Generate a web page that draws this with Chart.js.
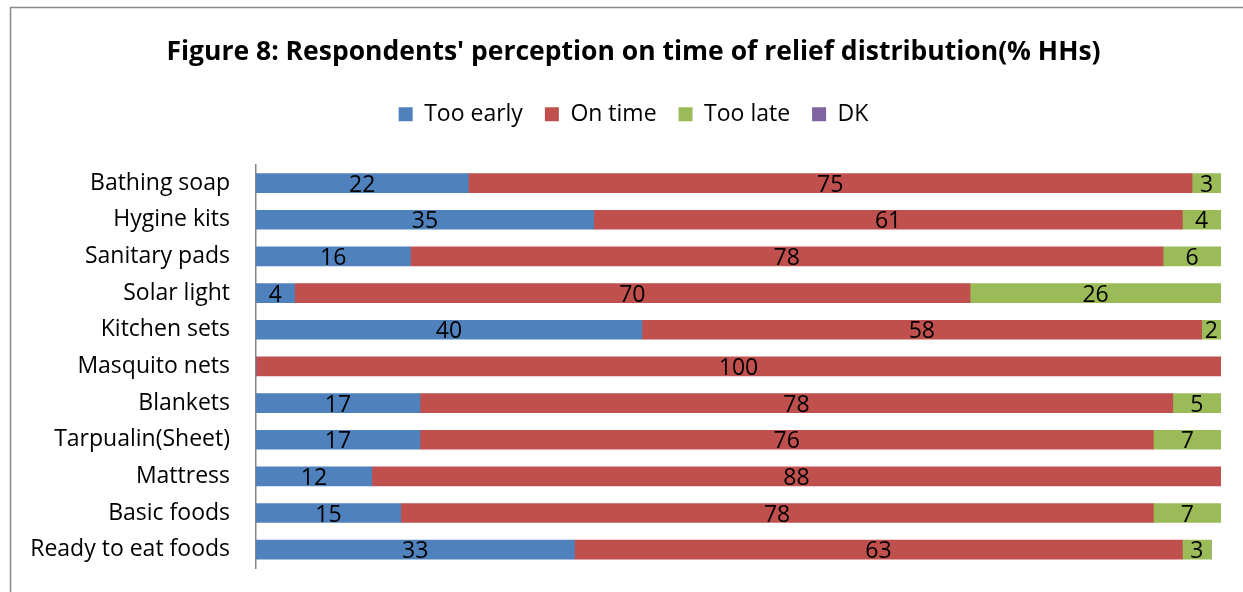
<!DOCTYPE html>
<html>
<head>
<meta charset="utf-8">
<script src="https://cdn.jsdelivr.net/npm/chart.js@4/dist/chart.umd.min.js"></script>
<style>
  html, body { margin: 0; padding: 0; background: #fff; }
  #wrap { width: 1243px; height: 592px; }
</style>
</head>
<body>
<div id="wrap"><canvas id="c" width="1243" height="592"></canvas></div>
<script>
// Relief items and the share of households (%) for each timing answer
const items = ['Bathing soap', 'Hygine kits', 'Sanitary pads', 'Solar light', 'Kitchen sets',
  'Masquito nets', 'Blankets', 'Tarpualin(Sheet)', 'Mattress', 'Basic foods', 'Ready to eat foods'];
const tooEarly = [22, 35, 16, 4, 40, 0, 17, 17, 12, 15, 33];
const onTime   = [75, 61, 78, 70, 58, 100, 78, 76, 88, 78, 63];
const tooLate  = [3, 4, 6, 26, 2, 0, 5, 7, 0, 7, 3];
const dontKnow = [0, 0, 0, 0, 0, 0, 0, 0, 0, 0, 0];

const FONT = '"Open Sans", Lato, sans-serif';

// White card with a grey frame behind the chart
const framePlugin = {
  id: 'frame',
  beforeDraw(chart) {
    const ctx = chart.ctx;
    ctx.save();
    ctx.fillStyle = '#ffffff';
    ctx.fillRect(0, 0, chart.width, chart.height);
    ctx.strokeStyle = '#878787';
    ctx.lineWidth = 1.5;
    ctx.strokeRect(10.5, 7.5, chart.width + 20, chart.height + 20);
    ctx.restore();
  }
};

// Centre the title and legend on the card rather than on the canvas
const headerShift = {
  id: 'headerShift',
  afterLayout(chart) {
    const dx = 18;
    [chart.titleBlock, chart.legend].forEach(b => {
      if (!b) return;
      b.left += dx;
      b.right += dx;
    });
  }
};

// Value printed in the middle of every non-empty segment
const valueLabels = {
  id: 'valueLabels',
  afterDatasetsDraw(chart) {
    const ctx = chart.ctx;
    ctx.save();
    ctx.font = '23px ' + FONT;
    ctx.fillStyle = '#000';
    ctx.textAlign = 'center';
    ctx.textBaseline = 'middle';
    chart.data.datasets.forEach((ds, di) => {
      const meta = chart.getDatasetMeta(di);
      if (meta.hidden) return;
      meta.data.forEach((bar, i) => {
        const v = ds.data[i];
        if (!v) return;
        const p = bar.getProps(['x', 'y', 'base'], true);
        ctx.fillText(String(v), (p.x + p.base) / 2, p.y + 2);
      });
    });
    ctx.restore();
  }
};

new Chart(document.getElementById('c'), {
  type: 'bar',
  data: {
    labels: items,
    datasets: [
      { label: 'Too early', data: tooEarly, backgroundColor: '#4F81BD' },
      { label: 'On time',   data: onTime,   backgroundColor: '#C0504D' },
      { label: 'Too late',  data: tooLate,  backgroundColor: '#9BBB59' },
      { label: 'DK',        data: dontKnow, backgroundColor: '#8064A2' }
    ]
  },
  options: {
    indexAxis: 'y',
    responsive: false,
    animation: false,
    events: [],
    datasets: { bar: { barThickness: 19, borderWidth: 0 } },
    layout: { padding: { left: 10, right: 22, top: 9, bottom: 24 } },
    scales: {
      x: {
        stacked: true, min: 0, max: 100, position: 'top',
        grid: { display: false }, border: { display: false },
        ticks: { display: false },
        afterFit(s) { s.height = 29; }
      },
      y: {
        stacked: true,
        grid: { display: false, drawTicks: true, tickLength: 26 },
        border: { display: true, color: '#868686', width: 1.5 },
        ticks: { color: '#000', padding: 0, font: { family: FONT, size: 23 } },
        afterFit(s) { s.width = 246; }
      }
    },
    plugins: {
      title: {
        display: true,
        text: "Figure 8: Respondents' perception on time of relief distribution(% HHs)",
        color: '#000',
        font: { family: FONT, size: 26.5, weight: 'bold' },
        padding: { top: 28, bottom: 12 }
      },
      legend: {
        position: 'top',
        labels: {
          color: '#000', boxWidth: 14, boxHeight: 14, padding: 22,
          font: { family: FONT, size: 23 }
        }
      },
      tooltip: { enabled: false }
    }
  },
  plugins: [framePlugin, headerShift, valueLabels]
});
</script>
</body>
</html>
